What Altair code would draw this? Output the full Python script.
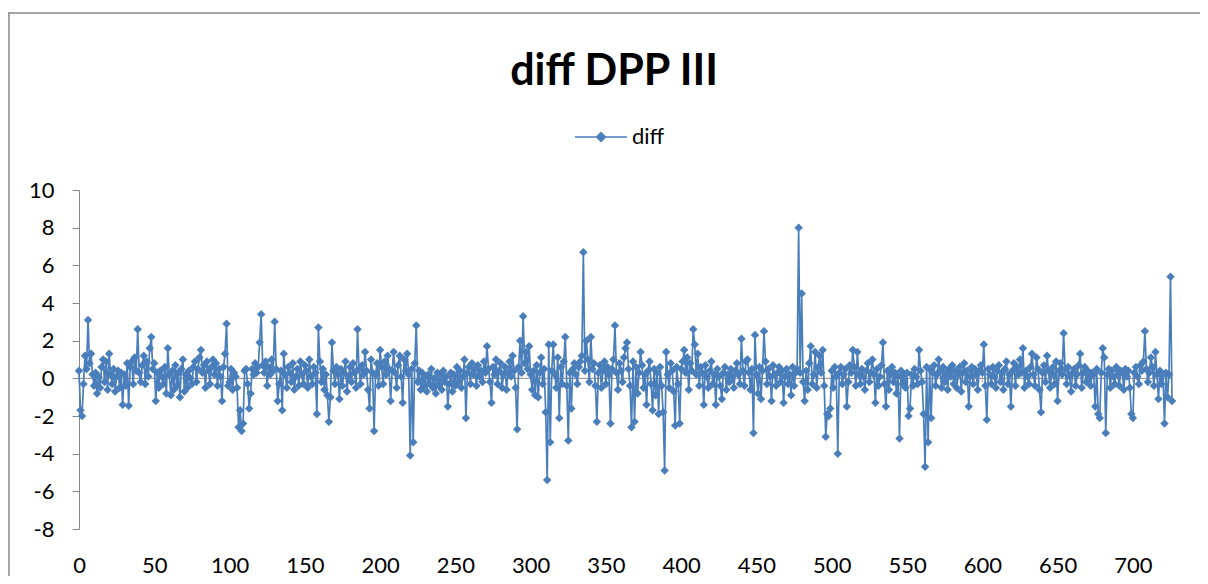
import altair as alt
import pandas as pd

# Values (index 0..726)
diff_0 = [0.4,-1.7,-2.0,-0.3,1.2,0.5,3.1,0.8,1.3,0.2, -0.4,0.3,-0.8,0.1,-0.5,0.6,1.0,-0.2,0.9,-0.6,
          1.3,0.2,-0.3,0.5,-0.7,0.1,0.4,-0.5,0.3,-1.4, 0.2,-0.4,0.8,-1.45,0.6,0.9,-0.3,1.1,0.4,2.6,
          0.3,-0.2,0.7,1.2,-0.3,0.9,0.1,1.6,2.2,0.5]
diff_50 = [0.8,-1.2,0.3,-0.5,0.4,0.1,-0.3,0.6,-0.8,1.6, 0.2,-0.9,0.4,-0.6,0.7,-0.4,0.3,-1.0,0.5,1.0,
           -0.7,0.2,-0.5,0.4,0.0,-0.3,0.6,0.9,-0.2,0.5, 1.1,1.5,0.3,0.7,-0.5,0.9,0.4,-0.3,0.6,1.0,
           0.2,0.8,-0.4,0.5,0.1,-1.2,0.6,1.3,2.9,-0.4]
diff_100 = [-0.2,0.5,-0.6,0.3,0.1,-0.5,-2.6,-1.7,-2.8,-2.4, 0.4,0.5,-0.3,-1.6,-0.8,0.5,0.2,0.8,0.3,0.6,
            1.9,3.4,0.7,0.3,0.9,-0.4,0.6,0.2,1.0,0.4, 3.0,0.5,-1.2,-0.3,0.4,-1.7,1.3,0.2,-0.5,0.6,
            0.3,-0.2,0.8,-0.6,0.1,0.5,-0.4,0.9,0.2,-0.3]
diff_150 = [0.7,0.4,-0.5,1.0,0.1,-0.3,0.6,0.3,-1.9,2.7, 0.9,-0.2,0.5,-0.6,0.2,-0.9,-2.3,-1.0,1.9,0.4,
            -0.3,0.6,0.2,-1.1,0.5,-0.4,0.3,0.9,-0.7,0.1, 0.6,-0.2,0.8,0.3,-0.5,2.6,0.5,-0.3,0.7,0.2,
            1.4,0.4,-0.6,-1.6,1.0,0.3,-2.8,0.2,0.8,-0.4]
diff_200 = [1.5,0.6,-0.3,0.9,0.2,1.2,0.5,-1.2,0.4,1.4, 0.3,-0.5,0.7,1.2,0.1,-1.3,1.0,0.4,1.3,0.2,
            -4.1,0.5,-3.4,0.8,2.8,-0.2,0.4,-0.6,0.3,-0.4, 0.1,-0.7,0.2,-0.3,0.5,-0.5,0.0,-0.8,0.3,-0.4,
            0.2,-0.6,0.4,-0.2,0.1,-1.5,-0.3,0.3,-0.7,0.2]
diff_250 = [-0.4,0.6,-0.2,0.4,-0.5,0.1,1.0,-2.1,0.3,0.6, -0.3,0.8,0.2,0.5,-0.4,0.7,0.1,0.4,-0.2,0.9,
            0.3,1.7,0.5,-0.2,-1.3,0.6,0.2,1.0,-0.3,0.4, 0.8,-0.5,0.2,0.6,-0.6,0.3,0.9,0.1,1.2,0.4,
            -0.5,-2.7,0.6,2.0,0.3,3.3,0.8,1.4,0.5,1.7]
diff_300 = [0.2,-0.6,0.4,-0.9,0.7,-1.0,0.3,1.1,-0.3,0.5, -1.8,-5.4,1.8,-3.4,0.4,1.8,0.2,-0.5,1.1,-2.1,
            0.6,-0.3,0.9,2.2,-0.4,-3.3,0.3,-1.6,0.5,0.8, 0.2,-0.3,0.6,0.9,1.2,6.7,0.4,2.0,1.0,-0.2,
            2.2,0.5,0.8,-0.4,-2.3,0.3,0.7,-0.5,0.4,0.9]
diff_350 = [-0.3,0.6,0.2,-2.4,0.5,1.0,2.8,0.3,-0.6,0.8, 0.4,-0.2,1.1,1.6,1.9,0.5,-0.4,-2.6,0.9,-2.3,
            0.6,-0.8,0.3,1.4,0.7,-0.5,0.2,-1.4,0.4,0.9, -0.3,-1.7,0.5,-0.9,0.3,-1.9,0.6,-0.4,-1.8,-4.9,
            1.4,0.2,-0.5,0.8,0.4,-0.7,-2.5,0.6,-0.3,-2.4]
diff_400 = [0.5,0.9,1.5,0.3,1.1,-0.6,0.8,0.4,2.6,1.8, 0.2,1.3,-0.4,0.6,0.3,-1.4,0.7,0.1,-0.5,0.4,
            0.9,-0.3,0.2,-1.4,0.5,0.1,-0.4,-1.1,0.3,0.6, -0.6,0.2,-0.2,0.5,0.1,-0.5,0.4,0.8,0.2,-0.3,
            2.1,0.4,-0.4,0.9,1.0,0.3,-0.6,0.5,-2.9,2.3]
diff_450 = [0.2,-0.8,0.6,-1.1,0.4,2.5,0.9,-0.3,0.5,0.1, -1.2,0.7,0.2,-0.4,0.3,0.6,-0.2,0.4,-1.3,0.1,
            0.5,-0.3,0.2,-0.9,0.6,-0.4,0.3,0.5,8.0,0.3, 4.5,-0.2,-1.2,0.4,-0.6,0.8,1.7,-0.3,0.2,1.4,
            -0.5,0.6,1.2,0.3,1.5,-0.4,-3.1,-1.9,-2.0,-1.6]
diff_500 = [0.4,-0.5,0.6,0.1,-4.0,0.3,0.6,-0.3,0.2,0.5, -1.5,-0.2,0.7,0.3,1.5,0.6,-0.4,1.4,0.2,-0.3,
            0.5,0.1,-0.6,0.4,0.8,-0.2,0.3,1.0,0.2,-1.3, 0.5,-0.4,0.1,0.7,1.9,-0.3,-1.5,0.4,-0.6,0.2,
            0.6,-0.2,0.3,-0.8,0.1,-3.2,0.4,-0.3,0.2,-0.5]
diff_550 = [0.3,-2.0,-1.6,0.2,-0.4,0.5,0.1,-0.3,1.5,0.4, -0.2,-1.9,-4.7,0.6,-3.4,0.5,-2.1,0.3,0.7,-0.4,
            0.2,1.0,0.4,-0.5,0.6,-0.2,0.3,-0.6,0.5,0.1, 0.7,-0.3,0.4,-0.5,0.2,0.6,-0.7,0.3,0.8,-0.2,
            0.4,-1.5,0.1,0.6,-0.3,0.5,0.2,-0.6,0.4,0.7]
diff_600 = [0.3,1.8,-0.4,-2.2,0.5,0.2,-0.3,0.6,0.1,-0.5, 0.4,0.7,-0.2,0.3,-0.6,0.5,0.9,-0.3,0.2,-1.5,
            0.4,0.8,-0.4,0.6,0.2,1.0,0.3,1.6,-0.5,0.4, 0.1,-0.3,0.6,1.3,0.2,-0.4,1.1,0.5,-0.6,-1.8,
            0.3,0.7,-0.2,1.2,0.4,-0.5,0.2,0.6,-0.3,0.9]
diff_650 = [-1.2,0.4,0.8,0.2,2.4,0.5,-0.3,0.6,0.1,-0.7, 0.3,0.5,-0.4,0.2,0.7,1.3,-0.5,0.3,0.6,-0.2,
            0.4,0.1,-0.4,0.3,0.2,-1.5,0.5,-1.9,-2.1,0.3, 1.6,1.1,-2.9,0.2,0.5,-0.5,0.4,0.1,-0.3,0.6,
            0.2,-0.4,0.4,0.3,-0.6,0.5,0.1,0.4,-0.5,-1.9]
diff_700 = [-2.1,0.3,0.6,0.1,-0.3,0.7,0.4,0.9,2.5,0.5, -0.2,0.3,1.1,0.6,-0.4,1.4,0.2,-1.1,0.4,-0.3,
            0.2,-2.4,0.3,-1.0,0.2,5.4,-1.2]

diff_values = (diff_0 + diff_50 + diff_100 + diff_150 + diff_200 + diff_250 + diff_300 + diff_350
               + diff_400 + diff_450 + diff_500 + diff_550 + diff_600 + diff_650 + diff_700)
x_ticks = [0, 50, 100, 150, 200, 250, 300, 350, 400, 450, 500, 550, 600, 650, 700]
y_ticks = [-8, -6, -4, -2, 0, 2, 4, 6, 8, 10]
series_name = "diff"
title_text = "diff DPP III"

n = len(diff_values)
df = pd.DataFrame({"idx": list(range(n)), "diff": diff_values, "series": [series_name] * n})
zero_df = pd.DataFrame({"idx": [0], "x1": [n - 1], "diff": [0]})
tick_df = pd.DataFrame({"idx": x_ticks, "diff": [0] * len(x_ticks)})
title_df = pd.DataFrame({"title": [title_text]})

BLUE = "#4a7ebb"
GRAY = "#868686"
FONT = "Lato"

x_scale = alt.Scale(domain=[0, n - 1], nice=False, zero=False)
y_scale = alt.Scale(domain=[-8, 10], nice=False)

x_axis = alt.Axis(values=x_ticks, domain=False, ticks=False, grid=False, title=None,
                  labelFontSize=22, labelFont=FONT, labelColor="#000000",
                  labelPadding=26, labelFlush=False, labelOverlap=False)
y_axis = alt.Axis(values=y_ticks, grid=False, title=None, domainColor=GRAY,
                  tickColor=GRAY, tickSize=7, domainWidth=1, tickWidth=1,
                  labelFontSize=22, labelFont=FONT, labelColor="#000000",
                  labelPadding=18, labelOverlap=False, labelExpr="'' + datum.value")
x_enc = alt.X("idx:Q", scale=x_scale, axis=x_axis)
y_enc = alt.Y("diff:Q", scale=y_scale, axis=y_axis)

legend = alt.Legend(title=None, orient="none", legendX=495, legendY=-80,
                    symbolType="M-1,0L1,0M0,-0.17L0.17,0L0,0.17L-0.17,0Z",
                    symbolSize=2704, symbolStrokeWidth=1.5,
                    symbolStrokeColor=BLUE, symbolFillColor=BLUE,
                    labelFontSize=22, labelFont=FONT, labelColor="#000000", labelOffset=4)
color_enc = alt.Color("series:N", scale=alt.Scale(range=[BLUE]), legend=legend)

frame_top = alt.Chart(title_df).mark_rule(stroke=GRAY, strokeWidth=1.5).encode(
    x=alt.value(-71), x2=alt.value(1200), y=alt.value(-177))
frame_left = alt.Chart(title_df).mark_rule(stroke=GRAY, strokeWidth=1.5).encode(
    x=alt.value(-70), y=alt.value(-177), y2=alt.value(420))

title_mark = alt.Chart(title_df).mark_text(
    font=FONT, fontSize=43, fontWeight="bold", color="#000000", align="center", baseline="alphabetic"
).encode(text="title:N", x=alt.value(535), y=alt.value(-105))

zero_line = alt.Chart(zero_df).mark_rule(color=GRAY, strokeWidth=1).encode(
    x=x_enc, x2="x1:Q", y=y_enc)

zero_ticks = alt.Chart(tick_df).mark_tick(color=GRAY, thickness=1, size=8, orient="vertical").encode(
    x=x_enc, y=y_enc)

line = alt.Chart(df).mark_line(strokeWidth=1.7).encode(x=x_enc, y=y_enc, color=color_enc)

points = alt.Chart(df).mark_point(shape="diamond", filled=True, size=72, opacity=1).encode(
    x=x_enc, y=y_enc, color=color_enc)

chart = alt.layer(frame_top, frame_left, title_mark, zero_line, zero_ticks, line, points).properties(
    width=1093, height=339,
    autosize=alt.AutoSizeParams(type="none"),
    padding={"left": 71, "top": 182, "right": 28, "bottom": 47},
).configure(background="white").configure_view(stroke=None)

chart.save("out.html", embed_options={"renderer": "svg", "actions": False})
